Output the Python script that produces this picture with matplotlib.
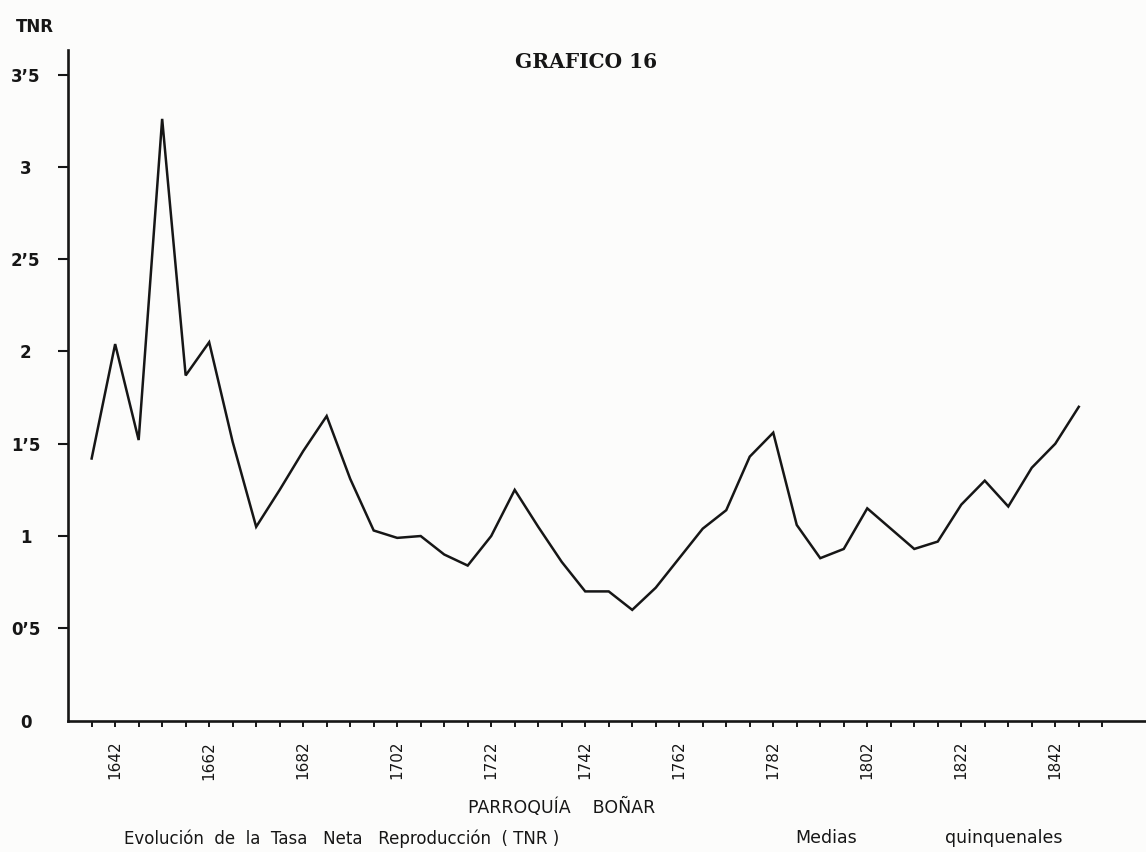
import matplotlib
matplotlib.use("Agg")
import matplotlib.pyplot as plt
from matplotlib.ticker import FixedLocator

# five-year means, Parroquia Boñar
years = [1637, 1642, 1647, 1652, 1657, 1662, 1667, 1672, 1677, 1682,
         1687, 1692, 1697, 1702, 1707, 1712, 1717, 1722, 1727, 1732,
         1737, 1742, 1747, 1752, 1757, 1762, 1767, 1772, 1777, 1782,
         1787, 1792, 1797, 1802, 1807, 1812, 1817, 1822, 1827, 1832,
         1837, 1842, 1847]
tnr = [1.42, 2.04, 1.52, 3.26, 1.87, 2.05, 1.51, 1.05, 1.25, 1.46,
       1.65, 1.31, 1.03, 0.99, 1.00, 0.90, 0.84, 1.00, 1.25, 1.05,
       0.86, 0.70, 0.70, 0.60, 0.72, 0.88, 1.04, 1.14, 1.43, 1.56,
       1.06, 0.88, 0.93, 1.15, 1.04, 0.93, 0.97, 1.17, 1.30, 1.16,
       1.37, 1.50, 1.70]

year_labels = [1642, 1662, 1682, 1702, 1722, 1742, 1762, 1782, 1802, 1822, 1842]
minor_years = [1637, 1647, 1652, 1657, 1667, 1672, 1677, 1687, 1692, 1697,
               1707, 1712, 1717, 1727, 1732, 1737, 1747, 1752, 1757, 1767,
               1772, 1777, 1787, 1792, 1797, 1807, 1812, 1817, 1827, 1832,
               1837, 1847, 1852]
y_ticks = [0, 0.5, 1, 1.5, 2, 2.5, 3, 3.5]
y_labels = ["0", "0\u20195", "1", "1\u20195", "2", "2\u20195", "3", "3\u20195"]

ink = "#161616"
paper = "#fcfcfb"
sans = ["DejaVu Sans"]

fig = plt.figure(figsize=(11.46, 8.52), dpi=100, facecolor=paper)
ax = fig.add_axes([0.0593, 0.1542, 0.9407, 0.7871], facecolor=paper)

ax.plot(years, tnr, color=ink, lw=1.8, solid_joinstyle="miter")

ax.set_xlim(1631.96, 1861.3)
ax.set_ylim(0, 3.633)

for s in ["top", "right"]:
    ax.spines[s].set_visible(False)
for s in ["left", "bottom"]:
    ax.spines[s].set_linewidth(1.9)
    ax.spines[s].set_color(ink)

# y axis
ax.set_yticks(y_ticks)
ax.set_yticklabels(y_labels, fontsize=12, fontweight="bold", color=ink,
                   family=sans, ha="center")
ax.tick_params(axis="y", direction="out", length=7.5, width=1.5, color=ink, pad=23)
ax.yaxis.get_major_ticks()[0].tick1line.set_visible(False)

# x axis
ax.xaxis.set_major_locator(FixedLocator(year_labels))
ax.xaxis.set_minor_locator(FixedLocator(minor_years))
ax.set_xticklabels([str(y) for y in year_labels], rotation=90, fontsize=11,
                   color=ink, family=sans, va="top")
ax.tick_params(axis="x", which="both", direction="out", length=4.5, width=1.4,
               color=ink, pad=10)

fig.text(0.030, 0.968, "TNR", fontsize=12, fontweight="bold", color=ink,
         ha="center", va="center", family=sans)
fig.text(0.511, 0.927, "GRAFICO 16", fontsize=14.5, fontweight="bold", color=ink,
         ha="center", va="center", family=["DejaVu Serif"])
fig.text(0.490, 0.052, "PARROQUÍA    BOÑAR", fontsize=12.5, color=ink,
         ha="center", va="center", family=sans)
fig.text(0.108, 0.016, "Evolución  de  la  Tasa   Neta   Reproducción  ( TNR )",
         fontsize=12, color=ink, ha="left", va="center", family=sans)
fig.text(0.694, 0.016, "Medias", fontsize=12.5, color=ink,
         ha="left", va="center", family=sans)
fig.text(0.825, 0.016, "quinquenales", fontsize=12.5, color=ink,
         ha="left", va="center", family=sans)

fig.savefig("out.png", dpi=100, facecolor=paper)
